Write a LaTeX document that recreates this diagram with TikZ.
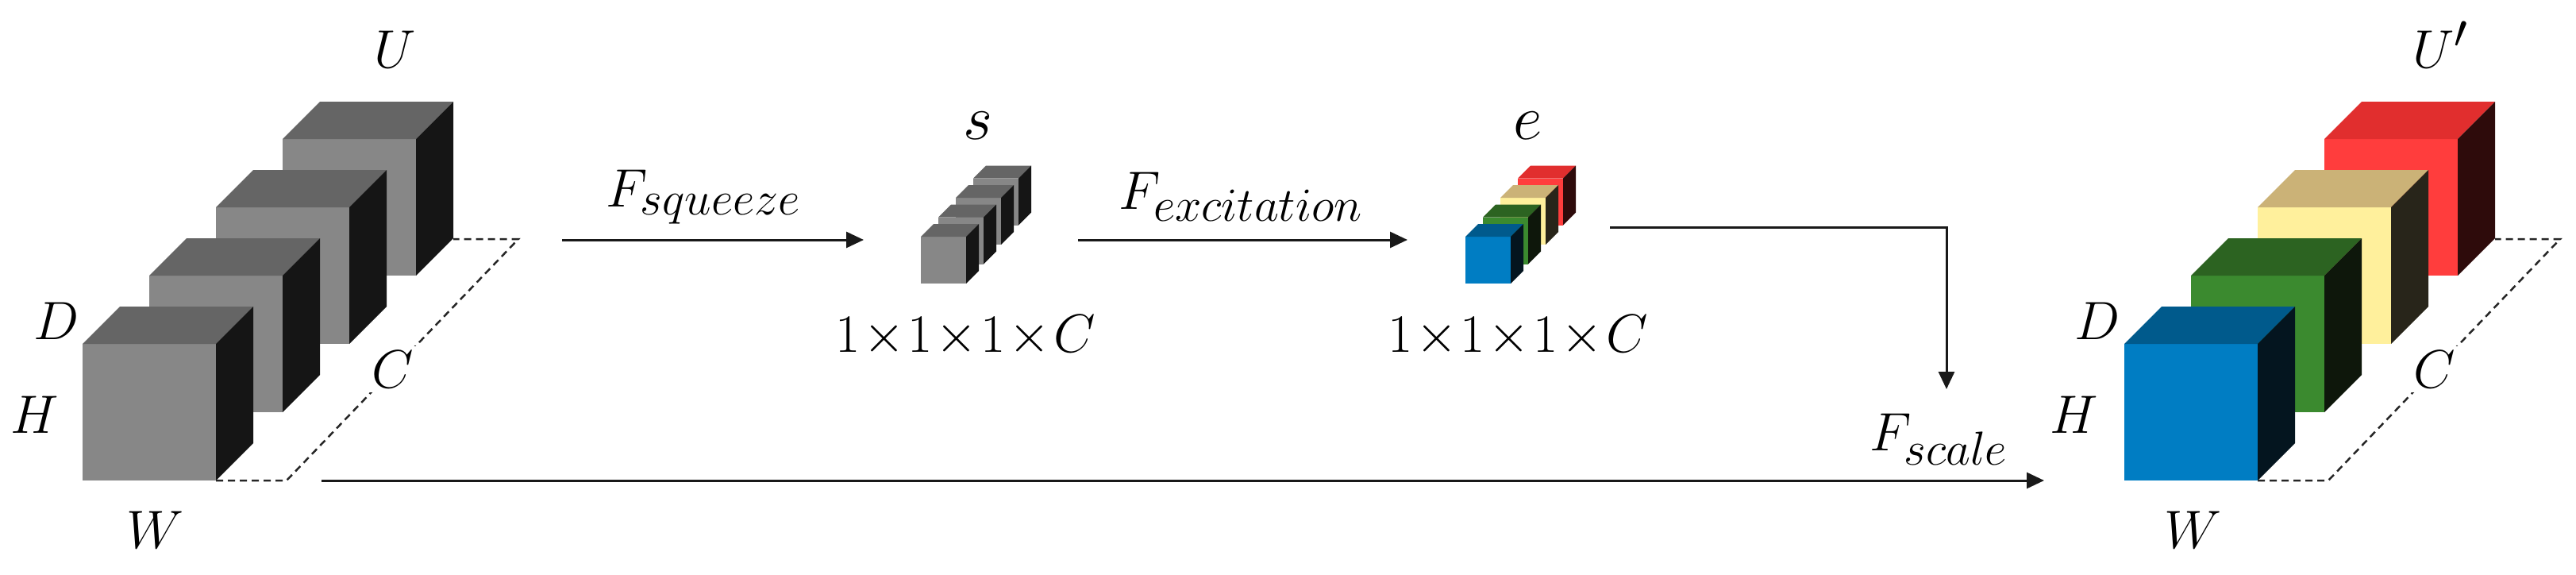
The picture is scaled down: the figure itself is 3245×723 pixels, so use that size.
\RequirePackage{fix-cm}
\documentclass[tikz,border=0pt]{standalone}
\usetikzlibrary{arrows.meta}
\DeclareMathSizes{68}{68}{60}{50}
\DeclareMathSizes{80}{80}{60}{50}
\definecolor{grayF}{HTML}{878787}
\definecolor{grayT}{HTML}{656565}
\definecolor{grayS}{HTML}{151515}
\definecolor{blueF}{HTML}{007DC3}
\definecolor{blueT}{HTML}{005A8C}
\definecolor{blueS}{HTML}{04151F}
\definecolor{greenF}{HTML}{3B8A2F}
\definecolor{greenT}{HTML}{2C6321}
\definecolor{greenS}{HTML}{0E170B}
\definecolor{yelF}{HTML}{FFF09C}
\definecolor{yelT}{HTML}{CBB277}
\definecolor{yelS}{HTML}{28251A}
\definecolor{redF}{HTML}{FF3D3D}
\definecolor{redT}{HTML}{E12E2E}
\definecolor{redS}{HTML}{2E0B0B}
% #1 x, #2 y (front face bottom-left), #3 w, #4 h, #5 depth, #6 front, #7 top, #8 side
\newcommand{\mycube}[8]{%
  \fill[#6] (#1,#2) rectangle ++(#3,-#4);
  \fill[#7] (#1,#2-#4) -- ++(#5,-#5) -- ++(#3,0) -- ++(-#5,#5) -- cycle;
  \fill[#8] (#1+#3,#2) -- ++(0,-#4) -- ++(#5,-#5) -- ++(0,#4) -- cycle;
}
\begin{document}
\begin{tikzpicture}[x=1pt,y=-1pt,
  lbl/.style={font=\fontsize{68}{80}\selectfont, inner sep=0pt, anchor=base},
  biglbl/.style={font=\fontsize{80}{90}\selectfont, inner sep=0pt, anchor=base},
  arr/.style={line width=3pt, black!90, -{Triangle[length=22pt,width=20pt]}},
  dashedge/.style={line width=2.5pt, dash pattern=on 9pt off 6pt, black!85}]
\useasboundingbox (0,0) rectangle (3245,723);

% ---------- left stack U ----------
\mycube{356}{347}{168}{172}{47}{grayF}{grayT}{grayS}
\mycube{272}{433}{168}{172}{47}{grayF}{grayT}{grayS}
\mycube{188}{519}{168}{172}{47}{grayF}{grayT}{grayS}
\mycube{104}{605}{168}{172}{47}{grayF}{grayT}{grayS}
\draw[dashedge] (272,605) -- (361,605) -- (653,301) -- (571,301);
\node[lbl] (lU) at (498,85) {$U$};
\node[lbl] (lD) at (71,427) {$D$};
\node[lbl] (lH) at (44,545) {$H$};
\node[lbl] (lW) at (196,690) {$W$};
\node[lbl, fill=white, inner sep=6pt] (lC) at (495,488) {$C$};

% ---------- squeeze cubes s ----------
\mycube{1226}{283.5}{57}{59}{16}{grayF}{grayT}{grayS}
\mycube{1204}{308}{57}{59}{16}{grayF}{grayT}{grayS}
\mycube{1182}{332.5}{57}{59}{16}{grayF}{grayT}{grayS}
\mycube{1160}{357}{57}{59}{16}{grayF}{grayT}{grayS}
\node[biglbl] (ls) at (1232,175) {$s$};
\node[lbl] (ldimS) at (1216,443) {$1\mkern1mu{\times}\mkern1mu1\mkern1mu{\times}\mkern1mu1\mkern1mu{\times}\mkern1mu C$};

% ---------- excitation cubes e ----------
\mycube{1912}{283.5}{57}{59}{16}{redF}{redT}{redS}
\mycube{1890}{308}{57}{59}{16}{yelF}{yelT}{yelS}
\mycube{1868}{332.5}{57}{59}{16}{greenF}{greenT}{greenS}
\mycube{1846}{357}{57}{59}{16}{blueF}{blueT}{blueS}
\node[biglbl] (le) at (1925,175) {$e$};
\node[lbl] (ldimE) at (1912,443) {$1\mkern1mu{\times}\mkern1mu1\mkern1mu{\times}\mkern1mu1\mkern1mu{\times}\mkern1mu C$};

% ---------- right stack U' ----------
\mycube{2928}{347}{168}{172}{47}{redF}{redT}{redS}
\mycube{2844}{433}{168}{172}{47}{yelF}{yelT}{yelS}
\mycube{2760}{519}{168}{172}{47}{greenF}{greenT}{greenS}
\mycube{2676}{605}{168}{172}{47}{blueF}{blueT}{blueS}
\draw[dashedge] (2844,605) -- (2933,605) -- (3225,301) -- (3143,301);
\node[lbl] (rU) at (3074,85) {$U'$};
\node[lbl] (rD) at (2642,427) {$D$};
\node[lbl] (rH) at (2613,545) {$H$};
\node[lbl] (rW) at (2763,690) {$W$};
\node[lbl, fill=white, inner sep=6pt] (rC) at (3067,488) {$C$};

% ---------- connectors ----------
\coordinate (sqA) at (708,302);
\coordinate (sqB) at (1088,302);
\coordinate (exA) at (1358,302);
\coordinate (exB) at (1773,302);
\coordinate (scA) at (2028,286);
\coordinate (scK) at (2452,286);
\coordinate (scB) at (2452,490);
\coordinate (idA) at (405,605);
\coordinate (idB) at (2575,605);
\draw[arr] (sqA) -- (sqB);
\draw[arr] (exA) -- (exB);
\draw[arr] (scA) -- (scK) -- (scB);
\draw[arr] (idA) -- (idB);
\node[lbl] (lsq) at (886,260) {$F_{squeeze}$};
\node[lbl] (lex) at (1563,263) {$F_{excitation}$};
\node[lbl] (lsc) at (2442,567) {$F_{scale}$};
\end{tikzpicture}
\end{document}
